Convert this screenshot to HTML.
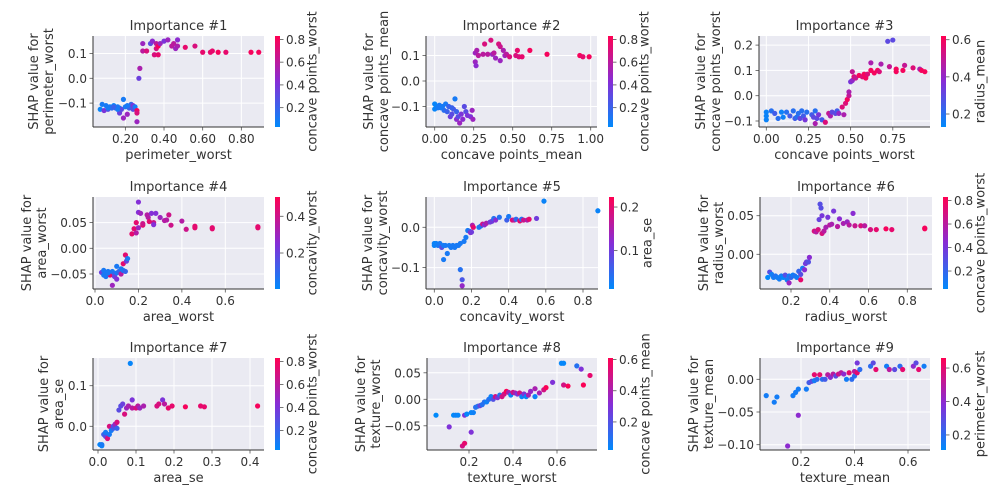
<!DOCTYPE html>
<html><head><meta charset="utf-8">
<style>
html,body{margin:0;padding:0;background:#fff;}
svg{display:block;font-family:"DejaVu Sans","Liberation Sans",sans-serif;}
</style></head>
<body>
<svg id="chart" width="1008" height="504" viewBox="0 0 1008 504" xmlns="http://www.w3.org/2000/svg"></svg>
<script>
// ---- data: [feature value, shap value, colour feature value] ----
const p1Data=[[0.07,-0.125,0.05],[0.08,-0.105,0.1],[0.09,-0.13,0.4],[0.10,-0.11,0.1],[0.11,-0.125,0.3],[0.12,-0.115,0.1],[0.13,-0.12,0.15],[0.14,-0.11,0.05],[0.15,-0.12,0.2],[0.16,-0.115,0.1],[0.17,-0.14,0.35],[0.17,-0.12,0.1],[0.18,-0.125,0.3],[0.19,-0.085,0.1],[0.19,-0.16,0.5],[0.20,-0.115,0.1],[0.21,-0.145,0.5],[0.22,-0.12,0.2],[0.23,-0.105,0.2],[0.24,-0.125,0.3],[0.24,-0.11,0.4],[0.25,-0.115,0.1],[0.26,-0.13,0.8],[0.26,-0.14,0.7],[0.26,-0.175,0.5],[0.14,-0.115,0.2],[0.16,-0.125,0.1],[0.21,-0.11,0.1],[0.11,-0.12,0.1],[0.27,0.0,0.35],[0.275,0.04,0.55],[0.29,0.14,0.5],[0.29,0.11,0.6],[0.31,0.11,0.7],[0.33,0.14,0.3],[0.34,0.15,0.45],[0.35,0.095,0.7],[0.36,0.12,0.7],[0.36,0.14,0.6],[0.37,0.095,0.75],[0.37,0.13,0.8],[0.38,0.14,0.5],[0.40,0.15,0.4],[0.42,0.155,0.5],[0.44,0.13,0.6],[0.45,0.14,0.6],[0.46,0.12,0.5],[0.47,0.155,0.45],[0.47,0.13,0.55],[0.51,0.125,0.75],[0.56,0.13,0.7],[0.60,0.105,0.75],[0.64,0.105,0.75],[0.65,0.11,0.75],[0.68,0.105,0.8],[0.72,0.105,0.75],[0.85,0.105,0.8],[0.89,0.105,0.8]];
const p2Data=[[0.0,-0.09,0.05],[0.0,-0.11,0.05],[0.01,-0.10,0.05],[0.02,-0.105,0.1],[0.03,-0.095,0.1],[0.05,-0.10,0.1],[0.06,-0.115,0.15],[0.07,-0.09,0.1],[0.08,-0.12,0.2],[0.09,-0.10,0.2],[0.10,-0.14,0.35],[0.11,-0.13,0.3],[0.12,-0.11,0.25],[0.13,-0.07,0.1],[0.14,-0.12,0.2],[0.14,-0.15,0.45],[0.15,-0.14,0.3],[0.16,-0.165,0.5],[0.17,-0.13,0.4],[0.18,-0.15,0.45],[0.19,-0.10,0.3],[0.20,-0.12,0.3],[0.21,-0.135,0.4],[0.23,-0.14,0.4],[0.24,-0.115,0.5],[0.245,-0.15,0.5],[0.04,-0.105,0.1],[0.11,-0.105,0.2],[0.26,0.075,0.5],[0.265,0.06,0.45],[0.26,0.11,0.5],[0.27,0.12,0.55],[0.28,0.10,0.6],[0.31,0.105,0.6],[0.32,0.145,0.7],[0.34,0.105,0.6],[0.36,0.16,0.7],[0.37,0.105,0.5],[0.38,0.11,0.6],[0.39,0.09,0.5],[0.41,0.145,0.7],[0.42,0.135,0.65],[0.42,0.08,0.5],[0.44,0.12,0.55],[0.45,0.10,0.5],[0.46,0.105,0.6],[0.48,0.095,0.7],[0.52,0.10,0.7],[0.53,0.12,0.75],[0.54,0.095,0.7],[0.56,0.095,0.75],[0.61,0.12,0.8],[0.72,0.105,0.8],[0.93,0.10,0.8],[0.95,0.095,0.75],[0.99,0.095,0.8]];
const p3Data=[[0.0,-0.065,0.15],[0.0,-0.08,0.15],[0.0,-0.095,0.15],[0.03,-0.06,0.2],[0.05,-0.07,0.25],[0.07,-0.09,0.2],[0.09,-0.065,0.15],[0.10,-0.085,0.15],[0.12,-0.065,0.2],[0.14,-0.08,0.25],[0.16,-0.06,0.2],[0.17,-0.09,0.25],[0.18,-0.085,0.2],[0.19,-0.07,0.2],[0.20,-0.09,0.3],[0.21,-0.06,0.2],[0.22,-0.08,0.25],[0.23,-0.095,0.35],[0.24,-0.065,0.2],[0.27,-0.075,0.25],[0.28,-0.085,0.3],[0.29,-0.06,0.2],[0.29,-0.11,0.45],[0.30,-0.09,0.3],[0.31,-0.075,0.35],[0.33,-0.095,0.25],[0.35,-0.105,0.55],[0.37,-0.07,0.5],[0.38,-0.08,0.45],[0.39,-0.065,0.3],[0.41,-0.07,0.3],[0.42,-0.06,0.25],[0.43,-0.07,0.4],[0.45,-0.045,0.55],[0.46,-0.075,0.45],[0.47,-0.03,0.55],[0.48,-0.015,0.6],[0.49,0.0,0.5],[0.49,0.015,0.45],[0.50,0.055,0.35],[0.51,0.06,0.4],[0.51,0.095,0.5],[0.52,0.075,0.55],[0.53,0.07,0.5],[0.55,0.08,0.6],[0.57,0.075,0.55],[0.58,0.085,0.6],[0.59,0.07,0.6],[0.60,0.085,0.55],[0.62,0.1,0.6],[0.62,0.13,0.45],[0.64,0.09,0.6],[0.66,0.10,0.6],[0.67,0.095,0.55],[0.68,0.125,0.45],[0.72,0.215,0.3],[0.73,0.115,0.5],[0.75,0.22,0.3],[0.77,0.095,0.6],[0.77,0.105,0.6],[0.81,0.1,0.6],[0.82,0.12,0.5],[0.87,0.11,0.55],[0.91,0.105,0.45],[0.92,0.1,0.6],[0.94,0.095,0.6]];
const p4Data=[[0.03,-0.047,0.2],[0.04,-0.043,0.05],[0.04,-0.052,0.05],[0.05,-0.048,0.05],[0.05,-0.055,0.05],[0.06,-0.045,0.05],[0.07,-0.05,0.1],[0.07,-0.052,0.45],[0.08,-0.045,0.05],[0.08,-0.072,0.3],[0.09,-0.05,0.1],[0.09,-0.055,0.2],[0.10,-0.035,0.05],[0.10,-0.06,0.25],[0.10,-0.048,0.05],[0.11,-0.045,0.1],[0.12,-0.04,0.05],[0.12,-0.05,0.35],[0.13,-0.043,0.05],[0.13,-0.03,0.45],[0.14,-0.045,0.1],[0.14,-0.013,0.45],[0.145,-0.025,0.2],[0.15,-0.02,0.05],[0.06,-0.048,0.05],[0.17,0.028,0.45],[0.18,0.038,0.45],[0.19,0.05,0.45],[0.19,0.03,0.35],[0.20,0.04,0.3],[0.20,0.09,0.25],[0.20,0.07,0.25],[0.21,0.068,0.3],[0.22,0.045,0.45],[0.22,0.048,0.4],[0.24,0.065,0.35],[0.245,0.06,0.35],[0.25,0.052,0.45],[0.26,0.068,0.25],[0.27,0.05,0.4],[0.27,0.046,0.25],[0.28,0.068,0.25],[0.30,0.06,0.3],[0.32,0.054,0.35],[0.33,0.055,0.35],[0.34,0.065,0.4],[0.35,0.045,0.4],[0.40,0.053,0.35],[0.42,0.037,0.4],[0.46,0.04,0.45],[0.46,0.043,0.45],[0.54,0.038,0.45],[0.54,0.04,0.45],[0.75,0.04,0.45],[0.75,0.042,0.45]];
const p5Data=[[0.0,-0.04,0.02],[0.0,-0.045,0.02],[0.01,-0.04,0.02],[0.02,-0.045,0.03],[0.03,-0.04,0.03],[0.04,-0.05,0.08],[0.05,-0.045,0.03],[0.05,-0.08,0.03],[0.06,-0.045,0.03],[0.07,-0.065,0.03],[0.08,-0.045,0.03],[0.09,-0.05,0.03],[0.10,-0.045,0.03],[0.11,-0.05,0.03],[0.12,-0.045,0.03],[0.13,-0.045,0.03],[0.14,-0.04,0.03],[0.14,-0.105,0.04],[0.15,-0.13,0.07],[0.15,-0.145,0.13],[0.16,-0.035,0.03],[0.17,-0.025,0.03],[0.18,-0.008,0.03],[0.19,-0.01,0.05],[0.195,-0.013,0.13],[0.20,-0.012,0.1],[0.205,0.005,0.15],[0.21,0.0,0.2],[0.24,0.0,0.03],[0.25,0.003,0.04],[0.26,0.008,0.18],[0.27,0.006,0.12],[0.28,0.01,0.15],[0.30,0.013,0.1],[0.31,0.015,0.1],[0.32,0.022,0.04],[0.33,0.018,0.12],[0.35,0.025,0.04],[0.39,0.018,0.06],[0.40,0.027,0.03],[0.42,0.018,0.2],[0.43,0.018,0.17],[0.44,0.02,0.05],[0.46,0.016,0.2],[0.47,0.02,0.04],[0.48,0.018,0.18],[0.50,0.018,0.15],[0.51,0.02,0.2],[0.55,0.022,0.1],[0.59,0.065,0.02],[0.88,0.041,0.02]];
const p6Data=[[0.08,-0.03,0.05],[0.09,-0.023,0.3],[0.10,-0.026,0.1],[0.11,-0.03,0.1],[0.12,-0.028,0.15],[0.13,-0.03,0.1],[0.14,-0.032,0.1],[0.15,-0.028,0.1],[0.16,-0.03,0.05],[0.17,-0.027,0.3],[0.18,-0.033,0.1],[0.19,-0.037,0.5],[0.19,-0.028,0.1],[0.20,-0.03,0.2],[0.21,-0.027,0.1],[0.22,-0.028,0.15],[0.23,-0.03,0.1],[0.24,-0.022,0.2],[0.25,-0.026,0.3],[0.25,-0.033,0.75],[0.26,-0.018,0.1],[0.27,-0.02,0.45],[0.275,-0.012,0.4],[0.28,-0.01,0.35],[0.29,-0.01,0.3],[0.295,-0.004,0.45],[0.32,0.03,0.7],[0.33,0.029,0.6],[0.34,0.032,0.7],[0.345,0.045,0.35],[0.35,0.065,0.3],[0.355,0.06,0.3],[0.36,0.05,0.4],[0.36,0.027,0.7],[0.37,0.03,0.6],[0.38,0.035,0.55],[0.39,0.048,0.4],[0.40,0.038,0.6],[0.41,0.039,0.55],[0.42,0.056,0.4],[0.44,0.036,0.6],[0.45,0.046,0.45],[0.47,0.04,0.55],[0.49,0.042,0.5],[0.50,0.038,0.6],[0.52,0.053,0.45],[0.53,0.037,0.65],[0.56,0.037,0.7],[0.58,0.037,0.6],[0.61,0.032,0.7],[0.64,0.032,0.75],[0.69,0.033,0.8],[0.72,0.032,0.75],[0.89,0.033,0.8],[0.89,0.034,0.8]];
const p7Data=[[0.005,-0.045,0.05],[0.01,-0.048,0.05],[0.01,-0.045,0.1],[0.015,-0.02,0.2],[0.02,-0.025,0.3],[0.02,-0.015,0.1],[0.025,-0.03,0.7],[0.03,-0.02,0.1],[0.03,0.0,0.7],[0.035,-0.01,0.1],[0.04,-0.005,0.2],[0.04,0.0,0.3],[0.045,0.005,0.5],[0.05,0.01,0.7],[0.05,-0.005,0.2],[0.055,0.04,0.3],[0.06,0.05,0.3],[0.065,0.055,0.35],[0.07,0.03,0.7],[0.075,0.045,0.5],[0.08,0.05,0.55],[0.085,0.155,0.05],[0.09,0.065,0.4],[0.09,0.045,0.6],[0.10,0.045,0.7],[0.105,0.05,0.6],[0.11,0.045,0.5],[0.12,0.05,0.55],[0.155,0.05,0.7],[0.16,0.055,0.7],[0.17,0.065,0.4],[0.175,0.055,0.6],[0.185,0.045,0.75],[0.195,0.05,0.75],[0.23,0.048,0.8],[0.27,0.05,0.75],[0.28,0.048,0.75],[0.42,0.05,0.8]];
const p8Data=[[0.05,-0.03,0.02],[0.11,-0.052,0.3],[0.13,-0.03,0.02],[0.14,-0.03,0.05],[0.15,-0.03,0.03],[0.17,-0.088,0.5],[0.18,-0.083,0.55],[0.18,-0.03,0.3],[0.19,-0.028,0.03],[0.21,-0.025,0.03],[0.21,-0.062,0.3],[0.22,-0.025,0.05],[0.23,-0.015,0.1],[0.24,-0.013,0.1],[0.25,-0.012,0.25],[0.26,-0.01,0.1],[0.27,-0.005,0.1],[0.28,-0.005,0.05],[0.29,0.0,0.1],[0.30,0.005,0.05],[0.31,0.0,0.2],[0.32,0.005,0.5],[0.33,0.003,0.3],[0.34,0.008,0.1],[0.35,0.005,0.5],[0.36,0.01,0.5],[0.37,0.015,0.6],[0.38,0.013,0.4],[0.39,0.008,0.05],[0.40,0.013,0.5],[0.41,0.012,0.4],[0.42,0.01,0.3],[0.43,0.012,0.5],[0.44,0.005,0.05],[0.45,0.01,0.3],[0.46,0.005,0.03],[0.47,0.008,0.4],[0.48,0.015,0.35],[0.50,0.02,0.4],[0.50,0.005,0.05],[0.52,0.012,0.4],[0.54,0.018,0.5],[0.55,0.022,0.6],[0.58,0.032,0.3],[0.62,0.068,0.03],[0.63,0.068,0.03],[0.63,0.027,0.5],[0.65,0.025,0.6],[0.69,0.063,0.1],[0.71,0.057,0.3],[0.72,0.027,0.6],[0.75,0.045,0.55]];
const p9Data=[[0.07,-0.025,0.15],[0.10,-0.035,0.15],[0.11,-0.027,0.15],[0.15,-0.102,0.4],[0.17,-0.025,0.15],[0.18,-0.02,0.15],[0.19,-0.055,0.4],[0.19,-0.015,0.15],[0.22,-0.015,0.15],[0.23,-0.005,0.25],[0.24,-0.003,0.3],[0.25,0.007,0.6],[0.25,-0.002,0.15],[0.26,0.0,0.2],[0.27,0.007,0.6],[0.28,0.0,0.2],[0.29,0.0,0.25],[0.30,0.007,0.5],[0.31,0.003,0.4],[0.32,0.008,0.5],[0.33,0.005,0.3],[0.34,0.008,0.55],[0.35,0.01,0.5],[0.36,0.008,0.4],[0.37,0.0,0.15],[0.38,0.01,0.6],[0.39,0.0,0.2],[0.40,0.005,0.2],[0.40,0.012,0.5],[0.41,0.01,0.6],[0.41,0.025,0.35],[0.42,0.015,0.2],[0.46,0.02,0.2],[0.47,0.025,0.3],[0.48,0.015,0.6],[0.52,0.02,0.15],[0.53,0.015,0.5],[0.55,0.015,0.3],[0.57,0.02,0.2],[0.58,0.015,0.6],[0.62,0.02,0.4],[0.63,0.025,0.3],[0.64,0.015,0.6],[0.66,0.02,0.15]];

// ---- tick values ----
const p1XTicks=[0.2,0.4,0.6,0.8], p1YTicks=[-0.1,0,0.1], p1CTicks=[0.2,0.4,0.6,0.8];
const p2XTicks=[0,0.25,0.5,0.75,1], p2YTicks=[-0.1,0,0.1], p2CTicks=[0.2,0.4,0.6,0.8];
const p3XTicks=[0,0.25,0.5,0.75], p3YTicks=[-0.1,0,0.1,0.2], p3CTicks=[0.2,0.4,0.6];
const p4XTicks=[0,0.2,0.4,0.6], p4YTicks=[-0.05,0,0.05], p4CTicks=[0.2,0.4];
const p5XTicks=[0,0.2,0.4,0.6,0.8], p5YTicks=[-0.1,0], p5CTicks=[0.1,0.2];
const p6XTicks=[0.2,0.4,0.6,0.8], p6YTicks=[0,0.05], p6CTicks=[0.2,0.4,0.6,0.8];
const p7XTicks=[0,0.1,0.2,0.3,0.4], p7YTicks=[0,0.1], p7CTicks=[0.2,0.4,0.6,0.8];
const p8XTicks=[0.2,0.4,0.6], p8YTicks=[-0.05,0,0.05], p8CTicks=[0.2,0.4,0.6];
const p9XTicks=[0.2,0.4,0.6], p9YTicks=[-0.1,-0.05,0], p9CTicks=[0.2,0.4,0.6];

// panel layout (pixel geometry + axis calibration)
const panels=[
 {n:1,data:p1Data,xt:p1XTicks,yt:p1YTicks,ct:p1CTicks,xd:2,yd:1,cd:1,box:[93,36,264,127],xm:[0,86.7,1,280],ym:[0,78.3,0.1,53.5],cr:[0.03,0.83],feat:"perimeter_worst",cf:"concave points_worst",ylx:40,clx:313},
 {n:2,data:p2Data,xt:p2XTicks,yt:p2YTicks,ct:p2CTicks,xd:2,yd:1,cd:1,box:[426,36,597,127],xm:[0,434.7,1,590.7],ym:[0,81,0.1,55.5],cr:[0.03,0.83],feat:"concave points_mean",cf:"concave points_worst",ylx:375,clx:645},
 {n:3,data:p3Data,xt:p3XTicks,yt:p3YTicks,ct:p3CTicks,xd:2,yd:1,cd:1,box:[759,36,930,127],xm:[0,766.3,0.75,892.8],ym:[0,95.7,0.1,70.4],cr:[0.13,0.62],feat:"concave points_worst",cf:"radius_mean",ylx:707,clx:981},
 {n:4,data:p4Data,xt:p4XTicks,yt:p4YTicks,ct:p4CTicks,xd:1,yd:2,cd:1,box:[93,197,264,289],xm:[0,95,0.6,225.3],ym:[0,248.3,0.05,222.6],cr:[0.004,0.505],feat:"area_worst",cf:"concavity_worst",ylx:33,clx:313},
 {n:5,data:p5Data,xt:p5XTicks,yt:p5YTicks,ct:p5CTicks,xd:1,yd:1,cd:1,box:[426,197,598,289],xm:[0,434.3,0.8,583],ym:[0,227.3,0.1,187],cr:[0.012,0.223],feat:"concavity_worst",cf:"area_se",ylx:374,clx:648},
 {n:6,data:p6Data,xt:p6XTicks,yt:p6YTicks,ct:p6CTicks,xd:1,yd:2,cd:1,box:[760,197,932,289],xm:[0.2,791,0.8,907.3],ym:[0,254.3,0.05,215.7],cr:[0.047,0.83],feat:"radius_worst",cf:"concave points_worst",ylx:710,clx:981},
 {n:7,data:p7Data,xt:p7XTicks,yt:p7YTicks,ct:p7CTicks,xd:1,yd:1,cd:1,box:[93,358,264,450],xm:[0,98,0.4,250],ym:[0,426.3,0.1,385.7],cr:[0.03,0.83],feat:"area_se",cf:"concave points_worst",ylx:50,clx:313},
 {n:8,data:p8Data,xt:p8XTicks,yt:p8YTicks,ct:p8CTicks,xd:1,yd:2,cd:1,box:[427,358,597,450],xm:[0.2,469,0.6,557],ym:[0,399.3,0.05,372.8],cr:[0.02,0.61],feat:"texture_worst",cf:"concave points_mean",ylx:367,clx:646},
 {n:9,data:p9Data,xt:p9XTicks,yt:p9YTicks,ct:p9CTicks,xd:1,yd:2,cd:1,box:[760,358,930,450],xm:[0.2,801,0.6,908],ym:[0,379.3,0.05,346.6],cr:[0.11,0.66],feat:"texture_mean",cf:"perimeter_worst",ylx:700,clx:981}
];

const NS="http://www.w3.org/2000/svg";
const svg=document.getElementById('chart');
function mk(tag,attrs,parent){const e=document.createElementNS(NS,tag);for(const k in attrs)e.setAttribute(k,attrs[k]);(parent||svg).appendChild(e);return e;}
function lin(m){return v=>m[1]+(v-m[0])*(m[3]-m[1])/(m[2]-m[0]);}
const stops=[[0,[0,138,251]],[0.5,[134,45,214]],[1,[255,0,82]]];
function cmap(t){t=Math.max(0,Math.min(1,t));let i=t<=0.5?0:1;const a=stops[i],b=stops[i+1];const f=(t-a[0])/(b[0]-a[0]);const c=a[1].map((v,k)=>Math.round(v+(b[1][k]-v)*f));return `rgb(${c[0]},${c[1]},${c[2]})`;}
const TXT="#333", FS=13;
const defs=mk('defs',{});
panels.forEach(p=>{
  const g=mk('g',{});
  
  
  const [L,T,R,B]=p.box;
  const X=lin(p.xm), Y=lin(p.ym);
  const bg=mk('rect',{x:L,y:T,width:R-L,height:B-T,fill:'#eaeaf2'},g);
  
  
  p.xt.forEach(v=>{const x=X(v);
    const gl=mk('line',{x1:x,x2:x,y1:T,y2:B,stroke:'#fff','stroke-width':1},g);
    
    
    mk('line',{x1:x,x2:x,y1:B,y2:B+3.5,stroke:'#555','stroke-width':0.8},g);
    const t=mk('text',{x:x,y:B+16,'text-anchor':'middle','font-size':FS-1,fill:TXT},g);
    t.textContent=v.toFixed(p.xd);
    
    
  });
  p.yt.forEach(v=>{const y=Y(v);
    const gl=mk('line',{x1:L,x2:R,y1:y,y2:y,stroke:'#fff','stroke-width':1},g);
    
    
    mk('line',{x1:L-3.5,x2:L,y1:y,y2:y,stroke:'#555','stroke-width':0.8},g);
    const t=mk('text',{x:L-6,y:y+4.5,'text-anchor':'end','font-size':FS-1,fill:TXT},g);
    t.textContent=(v<0?'\u2212':'')+Math.abs(v).toFixed(p.yd);
    
    
  });
  const cs=v=>(v-p.cr[0])/(p.cr[1]-p.cr[0]);
  p.data.forEach(d=>{
    const c=mk('circle',{cx:X(d[0]),cy:Y(d[1]),r:2.6,fill:cmap(cs(d[2]))},g);
    
    
  });
  mk('line',{x1:L,x2:L,y1:T,y2:B,stroke:'#333','stroke-width':1},g);
  mk('line',{x1:L,x2:R,y1:B,y2:B,stroke:'#333','stroke-width':1},g);
  const tt=mk('text',{x:(L+R)/2,y:T-6,'text-anchor':'middle','font-size':FS,fill:TXT},g);
  tt.textContent='Importance #'+p.n;
  
  
  const xl=mk('text',{x:(L+R)/2,y:B+32,'text-anchor':'middle','font-size':FS,fill:TXT},g);
  xl.textContent=p.feat;
  
  
  const cy=(T+B)/2;
  const yl=mk('text',{transform:`translate(${p.ylx},${cy}) rotate(-90)`,'text-anchor':'middle','font-size':FS,fill:TXT},g);
  
  
  const s1=mk('tspan',{x:0,dy:-2},yl); s1.textContent='SHAP value for';
  const s2=mk('tspan',{x:0,dy:15},yl); s2.textContent=p.feat;
  const cbx=R+11, cbw=5;
  const gid='grad'+p.n;
  const lg=mk('linearGradient',{id:gid,x1:0,y1:1,x2:0,y2:0},defs);
  [0,0.25,0.5,0.75,1].forEach(o=>mk('stop',{offset:o,'stop-color':cmap(o)},lg));
  const cb=mk('rect',{x:cbx,y:T,width:cbw,height:B-T,fill:`url(#${gid})`},g);
  
  
  const C=v=>B-(v-p.cr[0])/(p.cr[1]-p.cr[0])*(B-T);
  p.ct.forEach(v=>{const y=C(v);
    mk('line',{x1:cbx+cbw,x2:cbx+cbw+3.5,y1:y,y2:y,stroke:'#555','stroke-width':0.8},g);
    const t=mk('text',{x:cbx+cbw+6,y:y+4.5,'font-size':FS-1,fill:TXT},g);
    t.textContent=v.toFixed(p.cd);
    
    
  });
  const cl=mk('text',{transform:`translate(${p.clx},${cy}) rotate(-90)`,'text-anchor':'middle','dominant-baseline':'central','font-size':FS,fill:TXT},g);
  cl.textContent=p.cf;
  
  
});
</script>
</body></html>
